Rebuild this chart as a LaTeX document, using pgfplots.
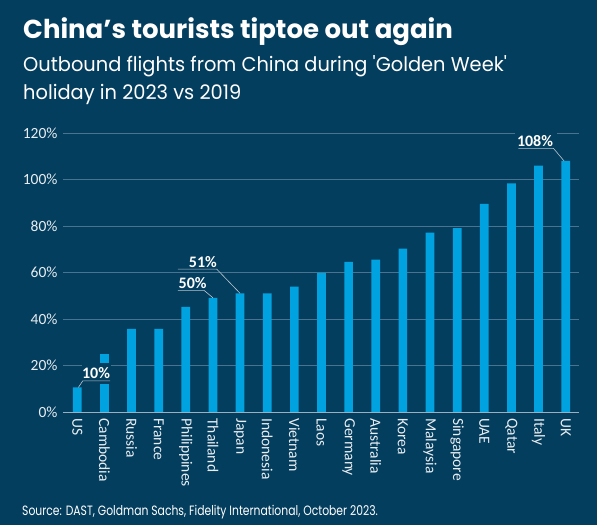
\documentclass[border=0pt]{standalone}
\usepackage{pgfplots}
\pgfplotsset{compat=1.18}
\usepackage{fontspec}
\setmainfont{Carlito}
\newfontfamily\popfontT{Poppins}[FakeStretch=1.0]
\newfontfamily\popfontS{Poppins}[FakeStretch=0.97]
\newfontfamily\popfontR{Poppins}[FakeStretch=0.80]
\definecolor{bg}{HTML}{043E5E}
\definecolor{gridc}{HTML}{4A7390}
\definecolor{basec}{HTML}{9AB0C0}
\definecolor{barc}{HTML}{00A3E0}
\definecolor{txtc}{HTML}{E8EDF1}
\definecolor{leadc}{HTML}{B8C4CE}
\begin{document}
\begin{tikzpicture}
\fill[bg] (0,0) rectangle (597bp,525bp);
\node[anchor=base west,inner sep=0,text=white] at (23bp,486.7bp)
  {\popfontT\fontsize{26bp}{30bp}\selectfont\bfseries China’s tourists tiptoe out again};
\node[anchor=base west,inner sep=0,text=white] at (23bp,453.3bp)
  {\popfontS\fontsize{20bp}{24bp}\selectfont Outbound flights from China during 'Golden Week'};
\node[anchor=base west,inner sep=0,text=white] at (23bp,425bp)
  {\popfontS\fontsize{20bp}{24bp}\selectfont holiday in 2023 vs 2019};
\node[anchor=base west,inner sep=0,text=white] at (22bp,9.3bp)
  {\popfontR\fontsize{13.5bp}{16bp}\selectfont Source: DAST, Goldman Sachs, Fidelity International, October 2023.};
\begin{axis}[
  at={(63bp,112.7bp)}, anchor=south west,
  scale only axis, width=515.7bp, height=279.3bp,
  xmin=-0.527, xmax=18.48, ymin=0, ymax=120,
  axis line style={draw=none},
  major tick length=0,
  ytick={0,20,...,120},
  ymajorgrids, grid style={gridc, line width=0.8bp},
  yticklabel={\pgfmathprintnumber{\tick}\%},
  yticklabel style={font=\fontsize{15.5bp}{18bp}\selectfont, text=txtc, xshift=-2bp},
  xtick={0,...,18},
  xticklabels={US,Cambodia,Russia,France,Philippines,Thailand,Japan,Indonesia,Vietnam,Laos,Germany,Australia,Korea,Malaysia,Singapore,UAE,Qatar,Italy,UK},
  xticklabel style={rotate=-90, anchor=west, font=\fontsize{15.5bp}{18bp}\selectfont, text=txtc, xshift=2.5bp},
  clip=false,
  /pgf/number format/assume math mode=true,
]
\addplot[ybar, bar width=8.7bp, fill=barc, draw=none] coordinates {
(0,10.7) (1,25) (2,35.8) (3,35.8) (4,45.3) (5,49.2) (6,51.1) (7,51.1) (8,54)
(9,59.9) (10,64.6) (11,65.6) (12,70.3) (13,77.2) (14,79.1) (15,89.6) (16,98.4) (17,106) (18,108)
};
\draw[basec, line width=0.9bp] (axis cs:-0.527,0) -- (axis cs:18.48,0);
% 10% label
\fill[bg] (axis cs:0.17,12.0) rectangle (axis cs:1.24,21.3);
\draw[leadc, line width=0.6bp] (axis cs:0.04,10.7) -- (axis cs:0.2,13.5) -- (axis cs:1.21,13.5);
\node[text=white, font=\fontsize{16bp}{18bp}\selectfont\bfseries, inner sep=0] at (axis cs:0.69,16.9) {10\%};
% 50% label
\draw[leadc, line width=0.6bp] (axis cs:5,49.2) -- (axis cs:4.67,52.4) -- (axis cs:3.71,52.4);
\node[text=white, font=\fontsize{16bp}{18bp}\selectfont\bfseries, inner sep=0] at (axis cs:4.25,55.7) {50\%};
% 51% label
\draw[leadc, line width=0.6bp] (axis cs:6,51.1) -- (axis cs:5.14,61.5) -- (axis cs:3.71,61.5);
\node[text=white, font=\fontsize{16bp}{18bp}\selectfont\bfseries, inner sep=0] at (axis cs:4.63,64.7) {51\%};
% 108% label
\fill[bg] (axis cs:16.13,114.5) rectangle (axis cs:17.67,122);
\draw[leadc, line width=0.6bp] (axis cs:17.94,108) -- (axis cs:17.55,113.4) -- (axis cs:16.26,113.4);
\node[text=white, font=\fontsize{16bp}{18bp}\selectfont\bfseries, inner sep=0] at (axis cs:16.87,116.7) {108\%};
\end{axis}
\end{tikzpicture}
\end{document}
